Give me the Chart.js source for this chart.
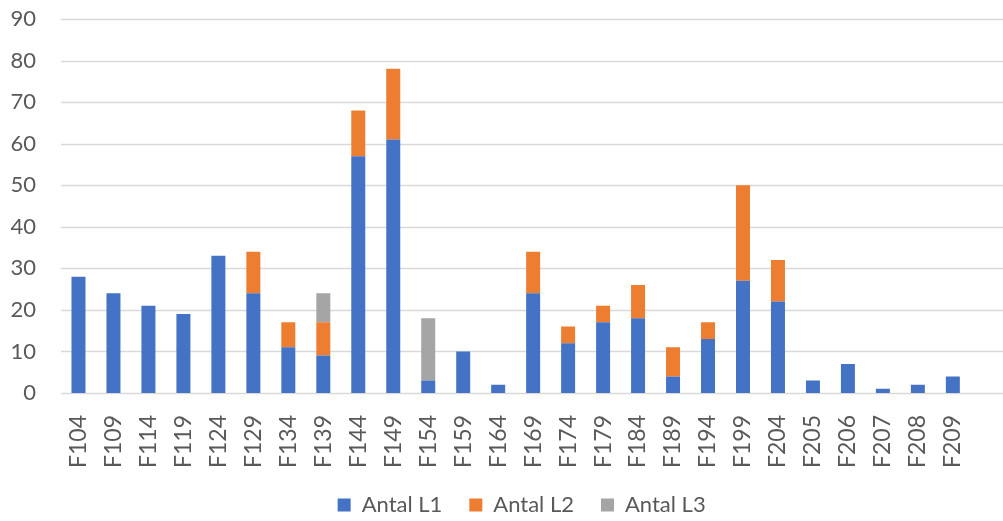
<!DOCTYPE html>
<html>
<head>
<meta charset="utf-8">
<script src="https://cdn.jsdelivr.net/npm/chart.js@4/dist/chart.umd.min.js"></script>
<style>
  html, body { margin: 0; padding: 0; background: #ffffff; }
  #wrap { width: 1003px; height: 521px; position: relative; }
</style>
</head>
<body>
<div id="wrap"><canvas id="chart"></canvas></div>
<script>
// Categories and counts per level
const categories = ['F104','F109','F114','F119','F124','F129','F134','F139','F144','F149','F154','F159','F164','F169','F174','F179','F184','F189','F194','F199','F204','F205','F206','F207','F208','F209'];
const antalL1 = [28,24,21,19,33,24,11,9,57,61,3,10,2,24,12,17,18,4,13,27,22,3,7,1,2,4];
const antalL2 = [0,0,0,0,0,10,6,8,11,17,0,0,0,10,4,4,8,7,4,23,10,0,0,0,0,0];
const antalL3 = [0,0,0,0,0,0,0,7,0,0,15,0,0,0,0,0,0,0,0,0,0,0,0,0,0,0];
const seriesNames = ['Antal L1', 'Antal L2', 'Antal L3'];
const yTicks = [0,10,20,30,40,50,60,70,80,90];

const textColor = '#595959';
const gridColor = '#d9d9d9';
const fontFamily = 'Lato, "Liberation Sans", sans-serif';

// Horizontal value gridlines that run out to the right edge of the canvas,
// plus a small nudge of the legend row to the right
const wideGrid = {
  id: 'wideGrid',
  afterLayout(chart) {
    if (chart.legend) {
      chart.legend.left += 6;
      chart.legend.right += 6;
    }
  },
  beforeDatasetsDraw(chart) {
    const y = chart.scales.y;
    const ctx = chart.ctx;
    ctx.save();
    ctx.strokeStyle = gridColor;
    ctx.lineWidth = 1.3;
    yTicks.forEach(v => {
      const py = Math.round(y.getPixelForValue(v)) + 0.5;
      ctx.beginPath();
      ctx.moveTo(chart.chartArea.left, py);
      ctx.lineTo(chart.width, py);
      ctx.stroke();
    });
    ctx.restore();
  }
};

new Chart(document.getElementById('chart'), {
  type: 'bar',
  data: {
    labels: categories,
    datasets: [
      { label: seriesNames[0], data: antalL1, backgroundColor: '#4472c4' },
      { label: seriesNames[1], data: antalL2, backgroundColor: '#ed7d31' },
      { label: seriesNames[2], data: antalL3, backgroundColor: '#a5a5a5' }
    ]
  },
  options: {
    responsive: true,
    maintainAspectRatio: false,
    animation: false,
    layout: { padding: { left: 0, right: 29, top: 19, bottom: -5 } },
    datasets: { bar: { barPercentage: 0.4, categoryPercentage: 1.0 } },
    plugins: {
      tooltip: { enabled: false },
      legend: {
        position: 'bottom',
        fullSize: false,
        labels: {
          boxWidth: 13,
          boxHeight: 13,
          padding: 27,
          color: textColor,
          font: { family: fontFamily, size: 22 }
        }
      }
    },
    scales: {
      x: {
        stacked: true,
        grid: { display: false, drawTicks: false },
        border: { display: false },
        ticks: {
          autoSkip: false,
          minRotation: 90,
          maxRotation: 90,
          padding: 22,
          color: textColor,
          font: { family: fontFamily, size: 23 }
        },
        afterFit(scale) { scale.height = 74; }
      },
      y: {
        stacked: true,
        min: 0,
        max: 90,
        grid: { display: false, drawTicks: false },
        border: { display: false },
        ticks: {
          stepSize: 10,
          padding: 25,
          color: textColor,
          font: { family: fontFamily, size: 22 }
        },
        afterFit(scale) {
          scale.width = 61;
          scale.paddingTop = 13;
          scale.paddingBottom = 13;
        }
      }
    }
  },
  plugins: [wideGrid]
});
</script>
</body>
</html>
